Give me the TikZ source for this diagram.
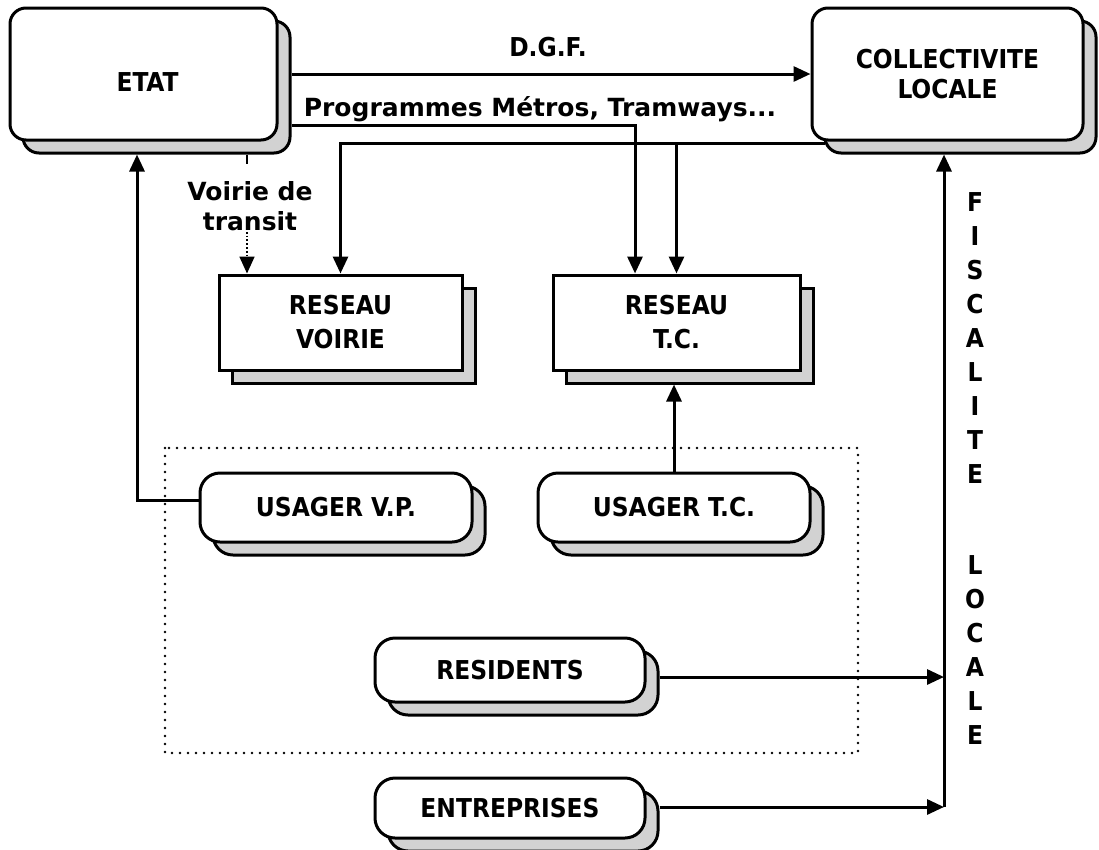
\documentclass[tikz,border=0pt]{standalone}
\usepackage{fontspec}
\newfontfamily\capfont{DejaVu Sans Condensed}
\newfontfamily\lblfont{DejaVu Sans}
\usetikzlibrary{arrows.meta,shadows,backgrounds}
\begin{document}
\begin{tikzpicture}[x=1pt,y=-1pt,
  capf/.style={font=\capfont\bfseries\fontsize{26}{30}\selectfont},
  boxbase/.style={draw=black, line width=3pt, fill=white, align=center, inner sep=0pt, capf,
     copy shadow={shadow xshift=13pt, shadow yshift=-13pt, fill=gray!35, draw=black, line width=3pt}},
  sqbox/.style={boxbase, font=\capfont\bfseries\fontsize{26}{34}\selectfont},
  rbox/.style={boxbase, rounded corners=16pt},
  pill/.style={boxbase, rounded corners=20pt},
  lbl/.style={font=\lblfont\bfseries\fontsize{25}{30}\selectfont, inner sep=1pt, align=center},
  arr/.style={line width=3pt, -{Triangle[length=17pt,width=15pt]}},
  thinline/.style={line width=1.8pt},
  groupbox/.style={line width=2.8pt, dash pattern=on 0pt off 8pt, line cap=round}
]
\useasboundingbox (0,0) rectangle (1099,849);

% boxes
\node[rbox, minimum width=267pt, minimum height=132pt] (etat) at (143.5,74) {\hspace{8pt}\raisebox{-17.5pt}[0pt][0pt]{ETAT}};
\node[rbox, minimum width=271pt, minimum height=132pt] (coll) at (947.5,74) {COLLECTIVITE\\LOCALE};
\node[sqbox, minimum width=243pt, minimum height=95pt] (voirie) at (340.5,322.5) {RESEAU\\VOIRIE};
\node[sqbox, minimum width=247pt, minimum height=95pt] (tc) at (676.5,322.5) {RESEAU\\T.C.};
\node[pill, minimum width=272pt, minimum height=69pt] (uvp) at (336,507.5) {USAGER V.P.};
\node[pill, minimum width=272pt, minimum height=69pt] (utc) at (674,507.5) {USAGER T.C.};
\node[pill, minimum width=270pt, minimum height=64pt] (res) at (510,670) {RESIDENTS};
\node[pill, minimum width=270pt, minimum height=60pt] (ent) at (510,808) {ENTREPRISES};

% labels
\node[capf, inner sep=1pt] (dgf) at (548,47) {D.G.F.};
\node[lbl] (prog) at (540,109) {Programmes Métros, Tramways...};
\node[lbl] (vdt) at (250,206) {Voirie de\\transit};
\node[capf, font=\capfont\bfseries\fontsize{26}{34}\selectfont, align=center, inner sep=0pt, anchor=north] (fisc) at (975,192)
  {F\\I\\S\\C\\A\\L\\I\\T\\E\\[57pt]L\\O\\C\\A\\L\\E};

% helper coordinates
\coordinate (etatR) at ([xshift=13pt]etat.east);
\coordinate (etatB) at ([yshift=-13pt]etat.south);
\coordinate (etatU) at ([xshift=-6.5pt]etatB);
\coordinate (collB) at ([yshift=-13pt]coll.south);
\coordinate (collL) at ([xshift=14pt,yshift=-2pt]coll.south west);
\coordinate (tcS) at ([yshift=-13pt]tc.south);
\coordinate (tcP) at ([xshift=-41.5pt]tc.north);
\coordinate (vB) at ([xshift=-93.5pt]voirie.north);
\coordinate (vtop) at (vB |- vdt.north);
\coordinate (uvpW) at ([yshift=7pt]uvp.west);
\coordinate (resR) at ([xshift=13pt,yshift=-7pt]res.east);
\coordinate (entR) at ([xshift=13pt,yshift=1pt]ent.east);
\coordinate (fx) at (944,0);
\coordinate (fbot) at (entR -| fx);

\begin{scope}[on background layer]
\draw[groupbox] (165,448) rectangle (858,753);
\draw[arr] (etatR) -- (etatR -| coll.west);
\draw[arr] (etatR |- 0,125) -| (tcP);
\draw[arr] (collL) -| (voirie.north);
\draw[arr] (tc.north |- collL) -- (tc.north);
\draw[thinline] (vB |- etatB) -- ([yshift=16pt]vtop);
\draw[arr, line width=1.8pt, dotted] (vB |- vdt.south) -- (vB);
\draw[arr] (uvpW) -| (etatU);
\draw[arr] (utc.north) -- (utc.north |- tcS);
\draw[arr] (resR) -- (resR -| fx);
\draw[arr] (entR) -- (fbot);
\draw[arr] (fbot) -- (fx |- collB);
\end{scope}
\end{tikzpicture}
\end{document}
